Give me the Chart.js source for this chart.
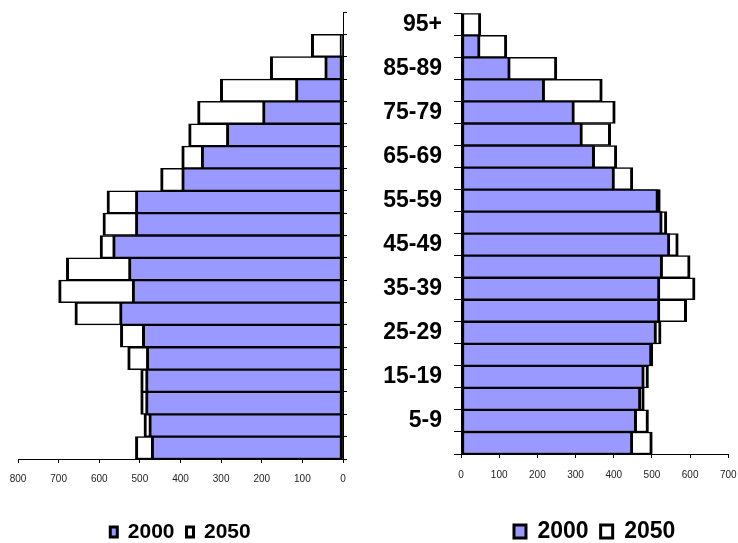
<!DOCTYPE html>
<html>
<head>
<meta charset="utf-8">
<script src="https://cdn.jsdelivr.net/npm/chart.js@4.4.0/dist/chart.umd.min.js"></script>
<style>
  html, body { margin: 0; padding: 0; background: #fff; overflow: hidden; }
  #wrap { position: relative; width: 738px; height: 543px; overflow: hidden; }
  .pane { position: absolute; top: 0; width: 369px; height: 560px; }
  #paneMen { left: 0; }
  #paneWomen { left: 369px; }
</style>
</head>
<body>
<div id="wrap">
  <div class="pane" id="paneMen"><canvas id="men"></canvas></div>
  <div class="pane" id="paneWomen"><canvas id="women"></canvas></div>
</div>
<script>
// age groups, oldest at the top
const ageGroups = ['95+', '90-94', '85-89', '80-84', '75-79', '70-74', '65-69', '60-64', '55-59', '50-54',
                   '45-49', '40-44', '35-39', '30-34', '25-29', '20-24', '15-19', '10-14', '5-9', '0-4'];

// left pyramid
const men2000 = [0, 5, 45, 117, 198, 287, 349, 397, 511, 511, 567, 528, 519, 550, 494, 484, 486, 486, 478, 472];
const men2050 = [0, 78, 179, 302, 358, 380, 397, 449, 581, 591, 598, 681, 700, 660, 548, 530, 498, 498, 490, 511];

// right pyramid
const women2000 = [0, 50, 129, 219, 297, 318, 350, 402, 517, 527, 547, 528, 521, 521, 512, 500, 480, 471, 460, 450];
const women2050 = [52, 120, 251, 370, 404, 392, 408, 450, 522, 539, 569, 600, 613, 591, 524, 502, 491, 480, 491, 501];

const menMax = 800;
const womenMax = 700;
const seriesNames = ['2000', '2050'];

const FONT = "'Liberation Sans', Arial, sans-serif";
const BLUE = '#9999FF';
const barBorder = { top: 1.5, bottom: 1.5, left: 3, right: 3 };

function makeDatasets(a, b) {
  return [
    { label: seriesNames[0], data: a, backgroundColor: BLUE, borderColor: '#000', borderWidth: barBorder, borderSkipped: false },
    { label: seriesNames[1], data: b, backgroundColor: '#FFFFFF', borderColor: '#000', borderWidth: barBorder, borderSkipped: false },
  ];
}

function legendOpts(size, boxW, boxH) {
  return {
    position: 'bottom',
    fullSize: false,
    labels: {
      font: { family: FONT, size: size, weight: 'bold' },
      color: '#000',
      boxWidth: boxW,
      boxHeight: boxH,
      padding: 12,
      generateLabels(chart) {
        return Chart.defaults.plugins.legend.labels.generateLabels(chart)
          .map(item => ({ ...item, lineWidth: 3, strokeStyle: '#000' }));
      },
    },
  };
}

// let layout.padding alone decide where the plot area sits
function noOverhang(s) {
  s.paddingTop = s.paddingBottom = s.paddingLeft = s.paddingRight = 0;
}

const common = {
  indexAxis: 'y',
  responsive: true,
  maintainAspectRatio: false,
  animation: false,
  datasets: { bar: { grouped: false, barPercentage: 1, categoryPercentage: 1 } },
  plugins: { tooltip: { enabled: false } },
};

new Chart(document.getElementById('men'), {
  type: 'bar',
  data: { labels: ageGroups, datasets: makeDatasets(men2000, men2050) },
  options: {
    ...common,
    layout: { padding: { top: 12, left: 18, right: 22, bottom: 7.5 } },
    plugins: { ...common.plugins, legend: legendOpts(21, 7, 10) },
    scales: {
      x: {
        reverse: true,
        min: 0,
        max: menMax,
        ticks: { stepSize: 100, font: { family: FONT, size: 10 }, color: '#222', padding: 10 },
        grid: { drawOnChartArea: false, color: '#000', tickLength: 4 },
        border: { color: '#000' },
        afterFit(s) { noOverhang(s); s.height = 50.5; },
      },
      y: {
        position: 'right',
        ticks: { display: false },
        grid: { drawOnChartArea: false, color: '#000', tickLength: 4, offset: true },
        border: { color: '#000' },
        afterFit(s) { noOverhang(s); },
      },
    },
  },
});

new Chart(document.getElementById('women'), {
  type: 'bar',
  data: { labels: ageGroups, datasets: makeDatasets(women2000, women2050) },
  options: {
    ...common,
    layout: { padding: { top: 13.3, left: 0, right: 9.7, bottom: 7 } },
    plugins: { ...common.plugins, legend: legendOpts(23, 12, 13) },
    scales: {
      x: {
        min: 0,
        max: womenMax,
        ticks: { stepSize: 100, font: { family: FONT, size: 10 }, color: '#222', padding: 11 },
        grid: { drawOnChartArea: false, color: '#000', tickLength: 4 },
        border: { color: '#000' },
        afterFit(s) { noOverhang(s); s.height = 54; },
      },
      y: {
        position: 'left',
        ticks: {
          autoSkip: false,
          padding: 12,
          font: { family: FONT, size: 23, weight: 'bold' },
          color: '#000',
          callback: (v, i) => (i % 2 === 0 ? ageGroups[i] : ''),
        },
        grid: { drawOnChartArea: false, color: '#000', tickLength: 7, offset: true },
        border: { color: '#000' },
        afterFit(s) { noOverhang(s); s.width = 92; },
      },
    },
  },
});
</script>
</body>
</html>
